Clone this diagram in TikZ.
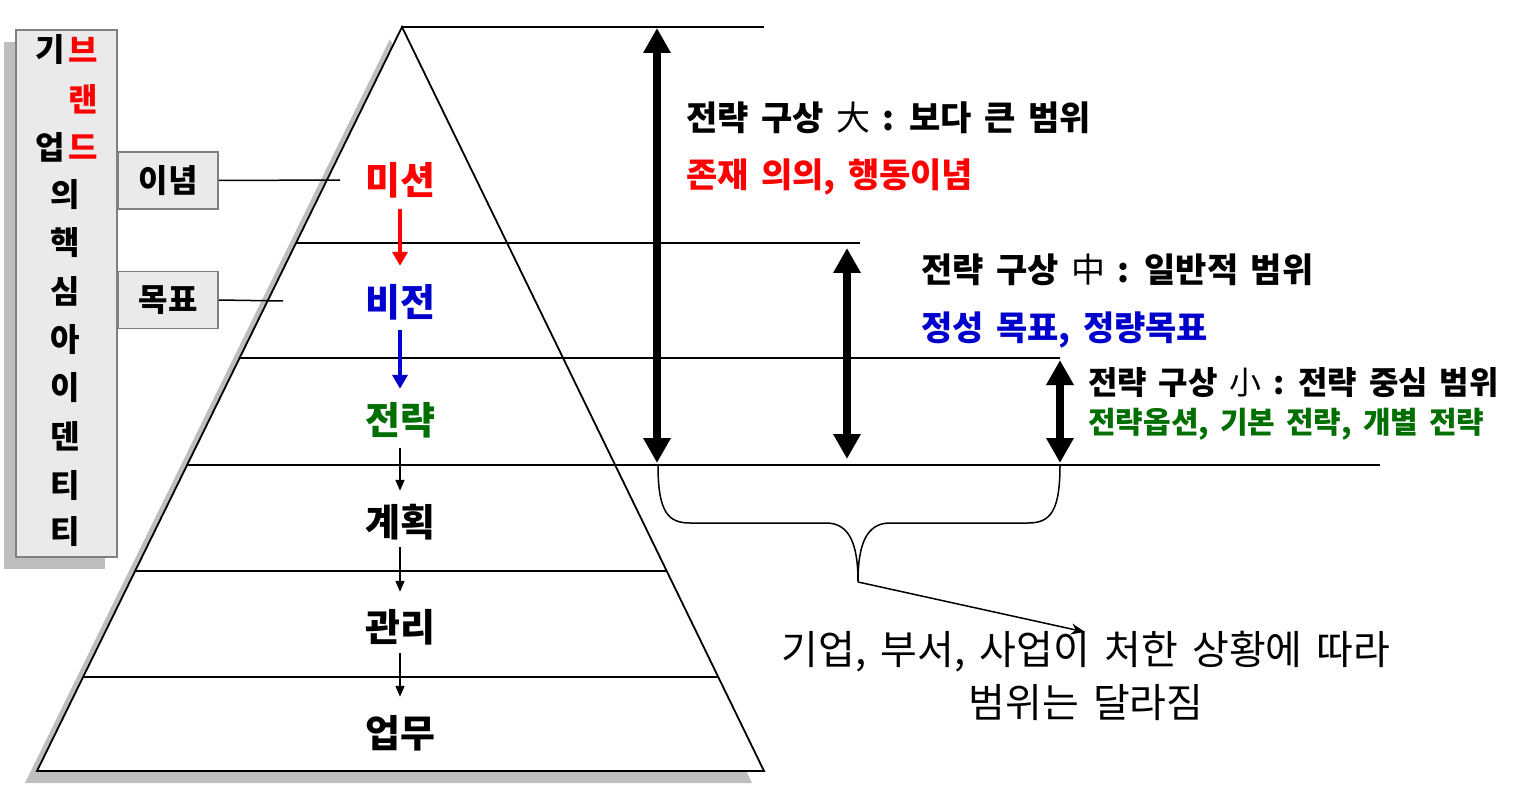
\documentclass[tikz,border=0pt]{standalone}
\usepackage{fontspec}
\setmainfont{Noto Sans CJK KR}[WordSpace=1.6]
\usetikzlibrary{arrows.meta}
\definecolor{kred}{RGB}{255,0,0}
\definecolor{kblue}{RGB}{0,0,204}
\definecolor{kgreen}{RGB}{0,110,0}
\definecolor{shadowgray}{RGB}{190,190,190}
\definecolor{boxfill}{RGB}{234,234,234}
\definecolor{boxline}{RGB}{128,128,128}
\begin{document}
\begin{tikzpicture}[x=1pt,y=-1pt,
  pline/.style={line width=1.8pt},
  lbl/.style={font=\bfseries\fontsize{38}{44}\selectfont, inner sep=0pt, minimum height=62pt},
  chr/.style={font=\bfseries\fontsize{32}{38}\selectfont, inner sep=0pt},
  gbox/.style={draw=boxline, fill=boxfill, line width=1.5pt, inner sep=0pt,
    minimum width=100pt, minimum height=57pt, font=\bfseries\fontsize{32}{38}\selectfont},
  rtext/.style={anchor=west, inner sep=0pt, font=\bfseries\fontsize{34}{40}\selectfont},
  bigarrow/.style={line width=8pt, {Triangle[width=26pt,length=25pt]}-{Triangle[width=26pt,length=25pt]}},
  smallarrow/.style={line width=4.5pt, -{Triangle[width=15pt,length=14pt]}},
  thinarrow/.style={line width=1.5pt, -{Triangle[width=9pt,length=11pt]}}]
\useasboundingbox (0,0) rectangle (1529,786);

% ---- pyramid with shadow
\fill[shadowgray] (390,39) -- (25,783) -- (752,783) -- cycle;
\draw[pline, fill=white] (402,27) -- (37,771) -- (764,771) -- cycle;
\draw[pline] (402,27) -- (764,27);
\draw[pline] (296,243) -- (860,243);
\draw[pline] (240,358) -- (1060,358);
\draw[pline] (187,465) -- (1380,465);
\draw[pline] (135,571) -- (667,571);
\draw[pline] (83,677) -- (718,677);

% ---- pyramid labels
\node[lbl, text=kred]   (mission)  at (400,180) {미션};
\node[lbl, text=kblue]  (vision)   at (400,302) {비전};
\node[lbl, text=kgreen] (strategy) at (400,420) {전략};
\node[lbl]              (plan)     at (400,522) {계획};
\node[lbl]              (mgmt)     at (400,627) {관리};
\node[lbl]              (work)     at (400,733) {업무};

\draw[smallarrow, kred, shorten <=-2pt, shorten >=5pt] (mission) -- (vision);
\draw[smallarrow, kblue, shorten <=-3pt] (vision) -- (strategy);
\draw[thinarrow, shorten <=-3pt] (strategy) -- (plan);
\draw[thinarrow, shorten <=-6pt, shorten >=4pt] (plan) -- (mgmt);
\draw[thinarrow, shorten <=-5pt, shorten >=5pt] (mgmt) -- (work);

% ---- left tall box
\fill[shadowgray] (4,42) rectangle (105,569);
\node[draw=boxline, fill=boxfill, line width=1.5pt, inner sep=0pt,
  minimum width=101pt, minimum height=527pt] (lbox) at (66.5,293.5) {};
\node[chr] (c1) at (50,50) {기};
\node[chr, text=kred] (c2) at (83,50) {브};
\node[chr, text=kred] (c3) at (83,99) {랜};
\node[chr] (c4) at (50,147) {업};
\node[chr, text=kred] (c5) at (83,147) {드};
\node[chr] (c6) at (65,195) {의};
\node[chr] (c7) at (65,243) {핵};
\node[chr] (c8) at (65,291) {심};
\node[chr] (c9) at (65,340) {아};
\node[chr] (c10) at (65,388) {이};
\node[chr] (c11) at (65,436) {덴};
\node[chr] (c12) at (65,486) {티};
\node[chr] (c13) at (65,532) {티};

% ---- small boxes
\node[gbox] (idea) at (168,180.5) {이념};
\node[gbox] (goal) at (168,300) {목표};
\coordinate (ideaend) at (340,180);
\coordinate (goalend) at (283,301);
\draw[line width=1.5pt] (idea.east) -- (ideaend);
\draw[line width=1.5pt] (goal.east) -- (goalend);

% ---- big arrows
\coordinate (a1t) at (657,28);   \coordinate (a1b) at (657,463);
\coordinate (a2t) at (847,248);  \coordinate (a2b) at (847,459);
\coordinate (a3t) at (1060,360); \coordinate (a3b) at (1060,463);
\draw[bigarrow] (a1t) -- (a1b);
\draw[bigarrow] (a2t) -- (a2b);
\draw[bigarrow] (a3t) -- (a3b);

% ---- right texts
\node[rtext] (big) at (686,118) {전략 구상 {\mdseries 大} : 보다 큰 범위};
\node[rtext, text=kred] (bigsub) at (686,177) {존재 의의, 행동이념};
\node[rtext] (mid) at (921,270) {전략 구상 {\mdseries 中} : 일반적 범위};
\node[rtext, text=kblue] (midsub) at (921,330) {정성 목표, 정량목표};
\node[rtext, font=\bfseries\fontsize{32}{37}\selectfont] (small) at (1088,383) {전략 구상 {\mdseries 小} : 전략 중심 범위};
\node[rtext, text=kgreen, font=\bfseries\fontsize{30}{35}\selectfont] (smallsub) at (1088,424) {전략옵션, 기본 전략, 개별 전략};

% ---- brace
\coordinate (bl) at (658,465);
\coordinate (br) at (1060,465);
\coordinate (btip) at (858,582);
\draw[line width=1.5pt] (bl) .. controls (658,512) and (668,523) .. (690,523)
  -- (826,523) .. controls (850,523) and (858,545) .. (btip)
  .. controls (858,545) and (866,523) .. (890,523)
  -- (1028,523) .. controls (1050,523) and (1060,512) .. (br);

% ---- note
\node[align=center, inner sep=0pt, font=\fontsize{40}{53}\selectfont] (note) at (1086,676)
  {기업, 부서, 사업이 처한 상황에 따라\\범위는 달라짐};
\coordinate (notetip) at (1085,632);
\draw[line width=1.5pt, -{Stealth[width=11pt,length=14pt]}] (btip) -- (notetip);
\end{tikzpicture}
\end{document}
